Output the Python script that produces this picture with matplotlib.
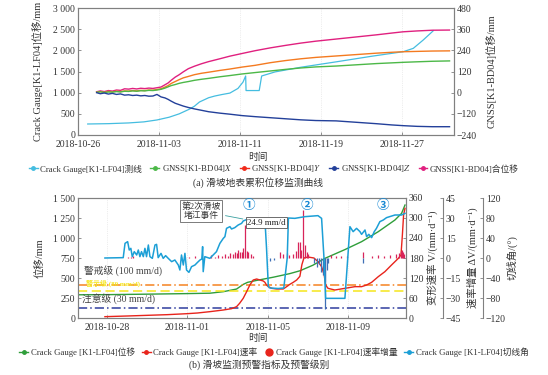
import numpy as np
import pandas as pd
import matplotlib
matplotlib.use('Agg')
import matplotlib.pyplot as plt
import matplotlib.dates as mdates
from matplotlib.lines import Line2D
from matplotlib.ticker import FuncFormatter

plt.rcParams['font.family'] = ['Liberation Serif', 'Noto Sans CJK SC', 'DejaVu Sans']
plt.rcParams['mathtext.fontset'] = 'stix'

# ---------------- data: panel (a) (days after 2018-10-26) ----------------
a_base = '2018-10-26'
a_ticks = ['2018-10-26', '2018-11-03', '2018-11-11', '2018-11-19', '2018-11-27']
crack_days = [0.96, 3.0, 5.0, 6.5, 7.8, 9.0, 10.0, 11.0, 11.5, 12.0, 12.9, 13.5, 14.2, 15.0,
              15.8, 16.3, 16.56, 16.6, 17.9, 18.14, 19.46, 22.0, 25.55, 29.0, 32.13, 33.12,
              34.1, 35.1]
crack_disp = [260, 268, 285, 310, 355, 420, 500, 610, 680, 780, 880, 920, 955, 990,
              1100, 1250, 1394, 1050, 1050, 1394, 1490, 1600, 1730, 1860, 1968, 2047,
              2244, 2464]
gnss_days = [1.84, 2.2, 2.6, 3.0, 3.4, 3.8, 4.2, 4.6, 5.0, 5.4, 5.8, 6.2, 6.6, 7.0, 7.4, 7.8,
             8.2, 8.6, 8.9, 9.2, 9.6, 10.0, 10.4, 10.9, 11.5, 12.2, 12.9, 14.0, 15.0, 16.2,
             17.5, 19.0, 20.5, 22.0, 23.5, 25.5, 27.5, 29.5, 31.0, 32.1, 33.5, 35.0, 36.7]
gnss_x = [2, 5, 1, 4, 3, 6, 4, 8, 7, 10, 8, 11, 10, 13, 12, 15, 19, 26, 33, 40, 46, 53, 58,
          63, 70, 76, 81, 90, 97, 106, 114, 123, 132, 140, 146, 151, 158, 165, 169, 172,
          175, 178, 180]
gnss_y = [3, 6, 2, 7, 5, 8, 6, 10, 9, 12, 10, 13, 12, 15, 14, 18, 22, 32, 40, 52, 63, 74, 84,
          92, 102, 110, 116, 126, 134, 145, 155, 170, 182, 192, 200, 208, 216, 224, 229,
          232, 234, 236, 237]
gnss_z = [0, -6, -2, -8, -4, -10, -7, -14, -12, -16, -14, -18, -16, -20, -19, -10, -24, -30,
          -38, -48, -60, -68, -76, -84, -92, -100, -108, -116, -122, -130, -136, -142, -148,
          -154, -158, -160, -168, -176, -183, -187, -191, -193, -193]
gnss_total = [5, 10, 6, 12, 9, 15, 13, 22, 20, 24, 21, 25, 23, 26, 24, 28, 32, 45, 55, 70,
              88, 102, 118, 136, 150, 164, 176, 192, 207, 222, 238, 254, 268, 281, 292, 304,
              316, 328, 338, 345, 350, 354, 355]

# ---------------- data: panel (b) (days after 2018-10-28) ----------------
b_base = '2018-10-28'
b_ticks = ['2018-10-28', '2018-11-01', '2018-11-05', '2018-11-09']
disp_days = [-1.43, 0, 2, 4, 5.12, 5.79, 6.45, 6.78, 7.0, 7.45, 8.28, 9.1, 9.6, 10.25, 10.84,
             11.84, 12.67, 13.5, 14.33, 14.66, 14.83]
disp_vals = [290, 292, 298, 305, 310, 329, 362, 420, 446, 470, 510, 555, 590, 660, 745,
             855, 954, 1079, 1225, 1308, 1412]
vel_days = [-0.1, 1.0, 2.0, 3.0, 4.0, 4.5, 5.12, 5.79, 6.2, 6.45, 6.6, 6.78, 6.95, 7.11, 7.28,
            7.45, 7.61, 7.78, 7.86, 7.94, 8.03, 8.2, 8.44, 8.77, 8.94, 9.1, 9.27, 9.44, 9.6,
            9.7, 9.8, 10.0, 10.3, 10.5, 10.68, 10.81, 10.88, 11.0, 11.34, 11.84, 12.34,
            12.67, 12.92, 13.17, 13.5, 13.83, 14.16, 14.5, 14.63, 14.7, 14.76, 14.83]
vel_vals = [4, 6, 8, 10, 13, 15, 19, 24, 28, 34, 44, 59, 79, 99, 114, 117, 114, 111, 107, 99,
            94, 89, 87, 87, 94, 101, 107, 114, 125, 160, 180, 183, 180, 169, 154, 129, 99,
            89, 84, 89, 94, 94, 99, 107, 124, 139, 159, 179, 189, 249, 309, 329]
inc_days = [1.05, 1.2, 1.3, 3.7, 3.9, 4.1, 4.4, 5.2, 5.37, 5.54, 5.7, 5.87, 6.04, 6.12, 6.25,
            6.36, 6.45, 6.53, 6.61, 6.7, 6.78, 6.87, 6.95, 7.03, 7.15, 7.28, 8.1, 8.3, 8.61,
            8.77, 8.94, 9.07, 9.27, 9.4, 9.52, 9.6, 9.68, 9.77, 9.85, 9.93, 10.02, 10.32,
            10.43, 10.55, 10.65, 10.76, 10.85, 10.87, 10.93, 11.01, 11.17, 11.42, 11.67,
            11.92, 12.74, 12.76, 13.2, 13.5, 13.8, 14.1, 14.4, 14.55, 14.62, 14.68, 14.74,
            14.8]
inc_vals = [1.0, 0.8, 1.2, 0.8, 1.0, 0.8, 1.2, 2.2, 1.0, 2.2, 1.5, 2.7, 1.7, 3.5, 2.7, 4.2,
            3.5, 6.0, 4.7, 4.2, 7.2, 24.9, 5.2, 4.2, 2.7, 1.5, -2.0, -1.5, 4.2, 2.7, 3.5,
            2.2, 2.7, 5.2, 12.2, 12.2, 6.0, 36.0, 9.7, 4.7, 2.7, -4.0, -6.5, -4.7, -10.2,
            -12.7, -18.0, -38.0, -9.0, -4.0, 2.2, 1.7, 1.5, 1.7, -4.0, 4.7, 1.5, 2.0, 1.7,
            2.2, 2.7, 3.5, 5.0, 6.0, 4.5, 3.0]
ang_days = [-0.1, 0.81, 0.9, 1.03, 1.11, 1.19, 1.26, 1.36, 1.48, 1.56, 1.64, 1.72, 1.81, 1.89,
            1.97, 2.06, 2.14, 2.26, 2.39, 2.47, 2.55, 2.69, 2.80, 2.92, 3.05, 3.22, 3.38,
            3.55, 3.63, 3.71, 3.80, 3.88, 3.96, 4.08, 4.21, 4.38, 4.5, 4.63, 4.72, 4.76,
            4.79, 4.87, 5.12, 5.45, 5.62, 5.79, 5.87, 5.95, 6.12, 6.2, 6.36, 6.53, 6.7,
            6.78, 6.95, 7.86, 7.94, 8.03, 8.11, 8.52, 8.8, 8.97, 9.03, 9.35, 9.85, 10.5,
            10.68, 10.81, 10.88, 11.84, 11.97, 12.09, 12.25, 12.42, 12.59, 12.67, 12.84,
            12.92, 13.03, 13.17, 13.3, 13.41, 13.58, 13.75, 13.91, 14.33, 14.66, 14.83]
ang_vals = [0.0, 0.7, 29.3, 32.7, 16, 19.3, 2.7, 12.7, 6, 16, 2.7, 12.7, 2.7, 19.3, 2.7, 26,
            2.7, -0.7, 26, 27.3, 0.7, 9.3, -0.7, 4.7, -0.7, -7.3, -4, -14, -24, 6, -14, 9.3,
            -24, -28.7, -17.3, -14, -9, -4, -2, 22.7, -27.3, 2.7, -0.7, 12.7, 29.3, 39.3,
            42.7, 59.3, 62.7, 58, 60.7, 66, 69.3, 74, 77, 77, 20, -57, -60, -61, -60, 0, 80,
            79.3, 82.7, 84.7, 79.3, -7.3, -80.7, -80.7, -7, 62.7, 52.7, 59.3, 52.7, 47.3,
            56, 42.7, 47.3, 40.7, 52.7, 59.3, 72.7, 76, 80.7, 86, 86, 89.3]
levels = [100, 80, 30]
level_names = ['警戒级 (100 mm/d)', '警示级 (80 mm/d)', '注意级 (30 mm/d)']

# ---------------- figure ----------------
W, H = 548, 375
fig = plt.figure(figsize=(W / 100, H / 100), dpi=100)


def box(l, t, r, b):
    return [l / W, 1 - b / H, (r - l) / W, (b - t) / H]


def fx(x):
    return x / W


def fy(y):
    return 1 - y / H


def to_dates(base, days):
    return mdates.date2num(pd.Timestamp(base)) + np.asarray(days, dtype=float)


def thousands(v, pos):
    v = int(round(v))
    if abs(v) >= 1000:
        return f"{v // 1000} {v % 1000:03d}"
    return str(v)


SP = '#808080'
TC = '#333333'


def style(ax):
    for s in ax.spines.values():
        s.set_color(SP)
        s.set_linewidth(0.8)
    ax.tick_params(direction='in', length=2.5, width=0.6, colors=SP, labelcolor=TC,
                   labelsize=7, pad=2)
    ax.tick_params(axis='x', pad=3.5)


# ---------------- panel (a) ----------------
axA = fig.add_axes(box(78, 8, 454, 135))
axA2 = axA.twinx()
style(axA)
style(axA2)
xa_c = to_dates(a_base, crack_days)
xa_g = to_dates(a_base, gnss_days)
axA.plot(xa_c, crack_disp, color='#45bde0', lw=0.9, zorder=3)
axA2.plot(xa_g, gnss_total, color='#e0207f', lw=1.0)
axA2.plot(xa_g, gnss_y, color='#f47a20', lw=1.0)
axA2.plot(xa_g, gnss_x, color='#4cb848', lw=1.0)
axA2.plot(xa_g, gnss_z, color='#23409a', lw=1.0)
axA.set_xlim(to_dates(a_base, [0.0])[0], to_dates(a_base, [37.14])[0])
axA.set_ylim(0, 3000)
axA.set_yticks(np.arange(0, 3001, 500))
axA.yaxis.set_major_formatter(FuncFormatter(thousands))
axA2.set_ylim(-240, 480)
axA2.set_yticks(np.arange(-240, 481, 120))
a_tick_pos = mdates.date2num(pd.to_datetime(a_ticks))
axA.set_xticks(a_tick_pos)
axA.set_xticklabels(a_ticks)
axA.grid(axis='x', color='#dddddd', lw=0.5, ls=':')
fig.text(fx(38), fy(71), 'Crack Gauge[K1-LF04]位移/mm', rotation=90, ha='center',
         va='center', fontsize=7.5, color=TC)
fig.text(fx(491), fy(71), 'GNSS[K1-BD04]位移/mm', rotation=90, ha='center',
         va='center', fontsize=7.5, color=TC)
fig.text(fx(258), fy(157), '时间', ha='center', va='center', fontsize=7, color=TC)
legA = [Line2D([0], [0], color=c, lw=1.0, marker='o', ms=2.5) for c in
        ['#45bde0', '#4cb848', '#f02a1a', '#23409a', '#e0207f']]
labA = ['Crack Gauge[K1-LF04]测线', 'GNSS[K1-BD04]$X$', 'GNSS[K1-BD04]$Y$',
        'GNSS[K1-BD04]$Z$', 'GNSS[K1-BD04]合位移']
fig.legend(legA, labA, loc='center', bbox_to_anchor=(fx(274), fy(169)), ncol=5,
           frameon=False, fontsize=6.3, handlelength=1.0, handletextpad=0.3,
           columnspacing=0.9, borderaxespad=0, labelcolor=TC)
fig.text(fx(258), fy(183), '(a) 滑坡地表累积位移监测曲线', ha='center', va='center',
         fontsize=7, color=TC)

# ---------------- panel (b) ----------------
axB = fig.add_axes(box(78, 198, 406, 318))
axV = axB.twinx()
axD = axB.twinx()
axT = axB.twinx()
for ax, px in [(axD, 443), (axT, 483)]:
    ax.spines['right'].set_position(('axes', (px - 78) / (406 - 78)))
    for s in ['left', 'top', 'bottom']:
        ax.spines[s].set_visible(False)
    ax.patch.set_visible(False)
for ax in [axB, axV, axD, axT]:
    style(ax)

xb = lambda d: to_dates(b_base, d)
axB.plot(xb(disp_days), disp_vals, color='#2f9e3a', lw=1.0, zorder=3)
axV.plot(xb(vel_days), vel_vals, color='#e8241c', lw=1.0, zorder=3)
lvl_styles = [dict(color='#f58220', ls=(0, (6, 2, 1, 2))),
              dict(color='#f5e51b', ls=(0, (6, 3))),
              dict(color='#2f3d9e', ls=(0, (6, 2, 1, 2)))]
for lv, st in zip(levels, lvl_styles):
    axV.axhline(lv, lw=1.1, **st)
inc = np.asarray(inc_vals)
xi = xb(inc_days)
axD.vlines(xi[inc > 0], 0, inc[inc > 0], color='#d8245a', lw=0.9)
axD.vlines(xi[inc < 0], 0, inc[inc < 0], color='#3f6fb5', lw=0.9)
axT.plot(xb(ang_days), ang_vals, color='#1c9fd6', lw=1.1, zorder=4)

axB.set_xlim(xb([-1.44])[0], xb([14.88])[0])
axB.set_ylim(0, 1500)
axB.set_yticks(np.arange(0, 1501, 250))
axB.yaxis.set_major_formatter(FuncFormatter(thousands))
axV.set_ylim(0, 360)
axV.set_yticks(np.arange(0, 361, 60))
axD.set_ylim(-45, 45)
axD.set_yticks(np.arange(-45, 46, 15))
axT.set_ylim(-120, 120)
axT.set_yticks(np.arange(-120, 121, 40))
b_tick_pos = mdates.date2num(pd.to_datetime(b_ticks))
axB.set_xticks(b_tick_pos)
axB.set_xticklabels(b_ticks)
axB.grid(axis='x', color='#dddddd', lw=0.5, ls=':')

# level labels
fig.text(fx(84), fy(276), level_names[0], ha='left', va='bottom', fontsize=7, color='#444444')
fig.text(fx(86), fy(287), level_names[1], ha='left', va='bottom', fontsize=5,
         color='#f5e51b', fontweight='bold')
fig.text(fx(82), fy(304), level_names[2], ha='left', va='bottom', fontsize=7, color='#444444')

# annotations
axT.annotate('第2次滑坡\n堵江事件', xy=(xb([6.9])[0], 77), xycoords='data',
             xytext=(fx(201), fy(211)), textcoords='figure fraction', ha='center',
             va='center', fontsize=6.3, color='#333333', linespacing=1.1,
             bbox=dict(boxstyle='square,pad=0.2', fc='white', ec='#666666', lw=0.6),
             arrowprops=dict(arrowstyle='-', color='#3aa0a0', lw=0.6))
fig.text(fx(247), fy(222.5), '24.9 mm/d', ha='left', va='center', fontsize=6.5,
         color='#222222',
         bbox=dict(boxstyle='square,pad=0.15', fc='white', ec='#555555', lw=0.6))
for lab, px in [('①', 249), ('②', 307), ('③', 383)]:
    fig.text(fx(px), fy(206), lab, ha='center', va='center', fontsize=9, color='#1a8ad4',
             family=['Noto Sans CJK SC'], fontweight='bold')

fig.text(fx(40), fy(258), '位移/mm', rotation=90, ha='center', va='center', fontsize=7.5,
         color=TC)
fig.text(fx(432), fy(258), '变形速率 V/(mm·d⁻¹)', rotation=90, ha='center',
         va='center', fontsize=7.5, color=TC)
fig.text(fx(472), fy(258), '速率增量 ΔV/(mm·d⁻¹)', rotation=90, ha='center',
         va='center', fontsize=7.5, color=TC)
fig.text(fx(512), fy(258), '切线角/(°)', rotation=90, ha='center', va='center',
         fontsize=7.5, color=TC)
fig.text(fx(258), fy(338), '时间', ha='center', va='center', fontsize=7, color=TC)

legB = [Line2D([0], [0], color='#2f9e3a', lw=1.0, marker='o', ms=2.5),
        Line2D([0], [0], color='#e8241c', lw=1.0, marker='o', ms=2.5),
        Line2D([0], [0], color='#e8241c', lw=0, marker='o', ms=5),
        Line2D([0], [0], color='#1c9fd6', lw=1.0, marker='o', ms=2.5)]
labB = ['Crack Gauge [K1-LF04]位移', 'Crack Gauge [K1-LF04]速率',
        'Crack Gauge [K1-LF04]速率增量', 'Crack Gauge [K1-LF04]切线角']
fig.legend(legB, labB, loc='center', bbox_to_anchor=(fx(274), fy(352)), ncol=4,
           frameon=False, fontsize=6.3, handlelength=1.0, handletextpad=0.3,
           columnspacing=0.8, borderaxespad=0, labelcolor=TC)
fig.text(fx(259), fy(365), '(b) 滑坡监测预警指标及预警级别', ha='center', va='center',
         fontsize=7, color=TC)

fig.savefig('out.png', dpi=100)
